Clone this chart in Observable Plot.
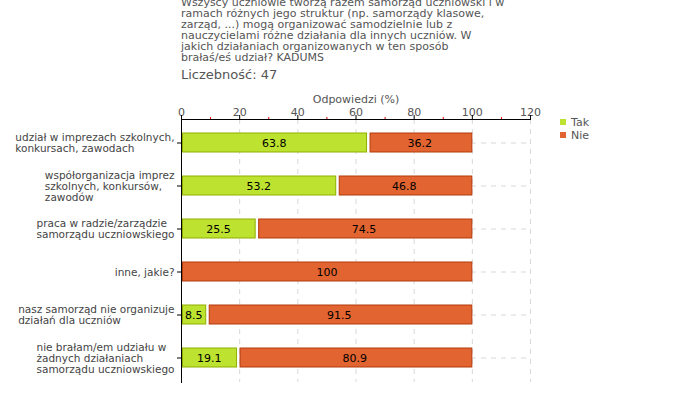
<!DOCTYPE html>
<html>
<head>
<meta charset="utf-8">
<script src="https://cdn.jsdelivr.net/npm/d3@7"></script>
<script src="https://cdn.jsdelivr.net/npm/@observablehq/plot@0.6"></script>
<style>
  body { margin: 0; background: #fff; font-family: "DejaVu Sans", Verdana, sans-serif; }
  #wrap { position: relative; width: 680px; height: 400px; overflow: hidden; }
  #title { position: absolute; left: 181px; top: -3.5px; font-size: 11px; line-height: 11px; color: #555; white-space: pre; }
  #count { position: absolute; left: 181px; top: 68px; font-size: 13px; line-height: 14px; color: #555; }
  #chart { position: absolute; left: 0; top: 0; }
  .leg { position: absolute; left: 560px; font-size: 11px; color: #555; line-height: 12px; }
  .leg span { display: inline-block; width: 6px; height: 6px; margin-right: 5px; vertical-align: 1px; }
</style>
</head>
<body>
<div id="wrap">
  <div id="chart"></div>
  <div id="title"></div>
  <div id="count"></div>
  <div id="legend"></div>
</div>
<script>
const titleLines = [
  "Wszyscy uczniowie tworzą razem samorząd uczniowski i w",
  "ramach różnych jego struktur (np. samorządy klasowe,",
  "zarząd, ...) mogą organizować samodzielnie lub z",
  "nauczycielami różne działania dla innych uczniów. W",
  "jakich działaniach organizowanych w ten sposób",
  "brałaś/eś udział? KADUMS"
];
const countText = "Liczebność: 47";
const axisTitle = "Odpowiedzi (%)";
const categories = [
  "udział w imprezach szkolnych,\nkonkursach, zawodach",
  "współorganizacja imprez\nszkolnych, konkursów,\nzawodów",
  "praca w radzie/zarządzie\nsamorządu uczniowskiego",
  "inne, jakie?",
  "nasz samorząd nie organizuje\ndziałań dla uczniów",
  "nie brałam/em udziału w\nżadnych działaniach\nsamorządu uczniowskiego"
];
const tak = [63.8, 53.2, 25.5, 0, 8.5, 19.1];
const nie = [36.2, 46.8, 74.5, 100, 91.5, 80.9];
const seriesNames = ["Tak", "Nie"];
const colors = { Tak: "#bde22f", Nie: "#e26430" };
const strokes = { Tak: "#8fae00", Nie: "#b33a0c" };
const majorTicks = [0, 20, 40, 60, 80, 100, 120];
const minorTicks = [10, 30, 50, 70, 90, 110];

document.getElementById("title").textContent = titleLines.join("\n");
document.getElementById("count").textContent = countText;
const leg = document.getElementById("legend");
seriesNames.forEach((s, i) => {
  const d = document.createElement("div");
  d.className = "leg";
  d.style.top = (117 + i * 13) + "px";
  d.innerHTML = `<span style="background:${colors[s]}"></span>${s}`;
  leg.appendChild(d);
});

const data = categories.map((c, i) => ({ cat: c, tak: tak[i], nie: nie[i], end: tak[i] + nie[i] }));

const labelSize = 10.5;
const ctx = document.createElement("canvas").getContext("2d");
ctx.font = `${labelSize}px 'DejaVu Sans'`;
const labelMarks = categories.map(c => {
  const w = d3.max(c.split("\n"), l => ctx.measureText(l).width);
  return Plot.text([c], {
    y: d => d, text: d => d, frameAnchor: "left", textAnchor: "start",
    dx: -w - 7, lineHeight: 1.05, fontSize: labelSize, fill: "#444"
  });
});

const grid = { stroke: "#d8d8d8", strokeOpacity: 1, strokeDasharray: "5,5" };

const chart = Plot.plot({
  width: 680, height: 400,
  marginLeft: 181, marginRight: 150, marginTop: 119, marginBottom: 18,
  style: { fontFamily: "'DejaVu Sans', Verdana, sans-serif", fontSize: "11px", background: "transparent" },
  x: { domain: [0, 120] },
  y: { domain: categories, paddingInner: 0.55, paddingOuter: 0.275 },
  marks: [
    Plot.gridX(majorTicks.slice(1), grid),
    Plot.gridY(categories, grid),
    Plot.barX(data.filter(d => d.tak > 0), { y: "cat", x1: 0, x2: "tak", fill: colors.Tak, stroke: strokes.Tak, insetLeft: 1.5 }),
    Plot.barX(data.filter(d => d.tak > 0), { y: "cat", x1: "tak", x2: "end", fill: colors.Nie, stroke: strokes.Nie, insetLeft: 3.5 }),
    Plot.barX(data.filter(d => d.tak === 0), { y: "cat", x1: 0, x2: "end", fill: colors.Nie, stroke: strokes.Nie, insetLeft: 1.5 }),
    Plot.text(data.filter(d => d.tak > 0), { y: "cat", x: d => d.tak / 2, text: d => d.tak.toFixed(1), fill: "#000", fontSize: 11 }),
    Plot.text(data, { y: "cat", x: d => (d.tak + d.end) / 2, text: d => d.nie === 100 ? "100" : d.nie.toFixed(1), fill: "#000", fontSize: 11 }),
    Plot.axisX({ anchor: "top", ticks: majorTicks, tickSize: 0, tickPadding: 4, fill: "#555", fontSize: 11, label: null }),
    Plot.axisX({ anchor: "top", ticks: majorTicks, tickSize: 5, tickFormat: () => "", stroke: "#000", label: null }),
    Plot.axisX({ anchor: "top", ticks: minorTicks, tickSize: 3, tickFormat: () => "", stroke: "#e00", label: null }),
    Plot.axisY({ ticks: categories, tickSize: 4, tickFormat: () => "", stroke: "#000", label: null }),
    Plot.frame({ anchor: "top", stroke: "#000" }),
    Plot.frame({ anchor: "left", stroke: "#000" }),
    Plot.text([axisTitle], { frameAnchor: "top", text: d => d, dy: -24, fill: "#555", fontSize: 11 }),
    ...labelMarks
  ]
});
document.getElementById("chart").appendChild(chart);
</script>
</body>
</html>
